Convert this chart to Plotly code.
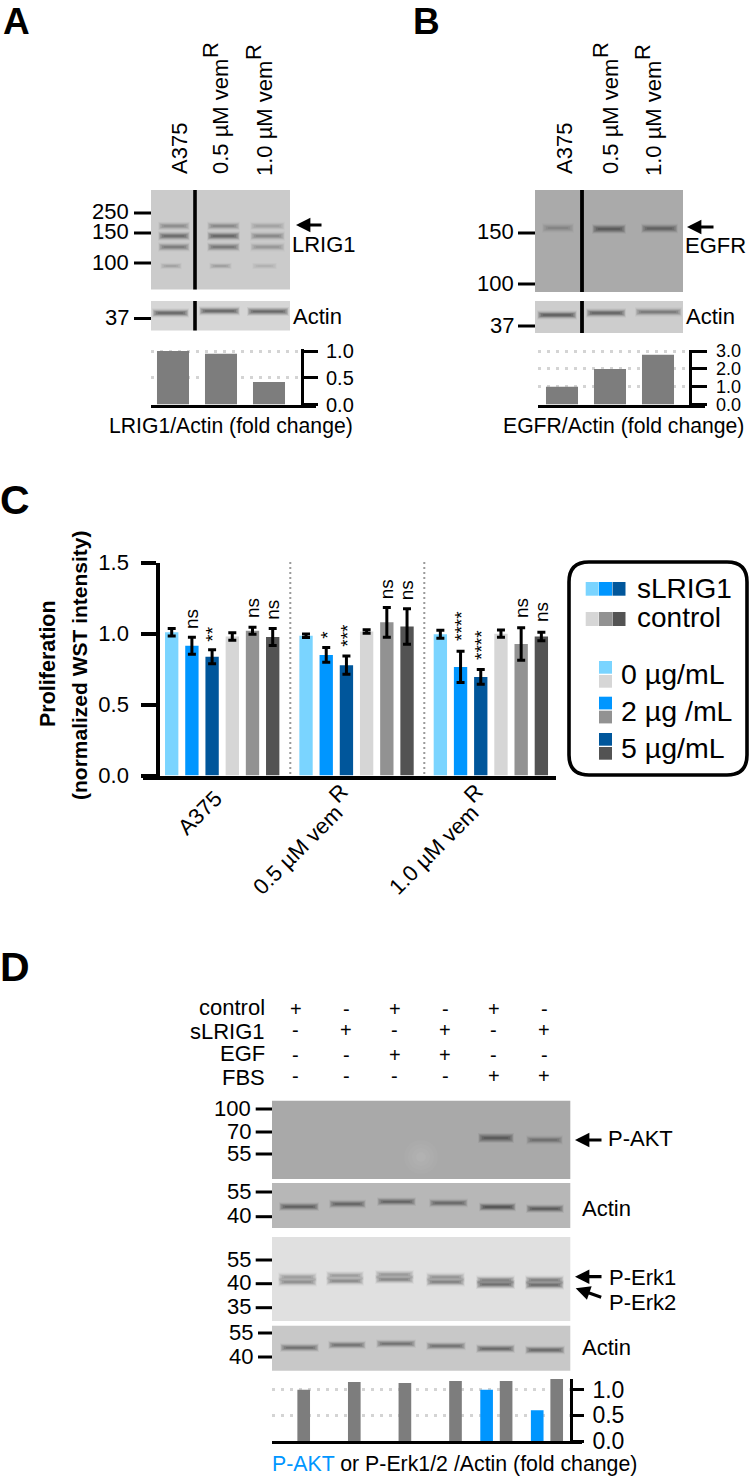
import plotly.graph_objects as go

W, H = 749, 1477
FONT = "Liberation Sans"

# ---- dados ----
# painel A
a_lanes = ["A375", "0.5 µM vem", "1.0 µM vem"]
a_fold = [1.0, 0.95, 0.42]
# painel B
b_fold = [1.0, 2.0, 2.8]
# painel C (A375, 0.5 vemR, 1.0 vemR)
c_groups = ["A375", "0.5 µM vem", "1.0 µM vem"]
c_slrig_0 = [1.01, 0.985, 0.995]
c_slrig_2 = [0.915, 0.85, 0.765]
c_slrig_5 = [0.837, 0.778, 0.695]
c_ctrl_0 = [0.98, 1.015, 1.0]
c_ctrl_2 = [1.02, 1.08, 0.927]
c_ctrl_5 = [0.976, 1.05, 0.98]
c_err_slrig_0 = [0.027, 0.012, 0.028]
c_err_slrig_2 = [0.06, 0.052, 0.11]
c_err_slrig_5 = [0.05, 0.065, 0.052]
c_err_ctrl_0 = [0.026, 0.012, 0.026]
c_err_ctrl_2 = [0.025, 0.105, 0.115]
c_err_ctrl_5 = [0.06, 0.125, 0.03]
c_signif = ["", "ns", "**", "", "ns", "ns",
            "", "*", "***", "", "ns", "ns",
            "", "****", "****", "", "ns", "ns"]
# painel D
d_rows = ["control", "sLRIG1", "EGF", "FBS"]
d_control = ["+", "-", "+", "-", "+", "-"]
d_slrig = ["-", "+", "-", "+", "-", "+"]
d_egf = ["-", "-", "+", "+", "-", "-"]
d_fbs = ["-", "-", "-", "-", "+", "+"]
d_erk_fold = [1.0, 1.15, 1.13, 1.17, 1.17, 1.21]
d_akt_lanes = [4, 5]
d_akt_fold = [1.0, 0.6]


def px(x):
    return x / W


def py(y):
    return 1 - y / H


fig = go.Figure()
shapes = []
annots = []


def txt(x, y, s, size=22, anchor="center", angle=0, bold=False, color="black"):
    annots.append(dict(x=px(x), y=py(y), xref="paper", yref="paper", text=s, showarrow=False,
                       xanchor=anchor, yanchor="middle", textangle=angle, borderpad=0, borderwidth=0,
                       font=dict(family=FONT, size=size, color=color, weight="bold" if bold else "normal")))


def seta(x_tip, y_tip, x_tail, y_tail):
    annots.append(dict(x=px(x_tip), y=py(y_tip), xref="paper", yref="paper", text="", showarrow=True,
                       ax=x_tail - x_tip, ay=y_tail - y_tip, axref="pixel", ayref="pixel",
                       arrowhead=2, arrowsize=0.9, arrowwidth=3.2, arrowcolor="black", standoff=0))


def linha(x0, y0, x1, y1, cor="black", larg=3, dash=None):
    shapes.append(dict(type="line", xref="paper", yref="paper", x0=px(x0), y0=py(y0), x1=px(x1), y1=py(y1),
                       line=dict(color=cor, width=larg, dash=dash) if dash else dict(color=cor, width=larg)))


def ret(x0, y0, x1, y1, cor):
    shapes.append(dict(type="rect", xref="paper", yref="paper", x0=px(x0), y0=py(y0), x1=px(x1), y1=py(y1),
                       fillcolor=cor, line=dict(width=0), layer="below"))


def banda(x0, x1, y, forca=0.5, esp=3.0, y1=None):
    # banda do blot: linhas sobrepostas pra borda ficar suave
    if y1 is None:
        y1 = y
    for fator, alfa, recuo in [(3.0, 0.05, -1), (2.4, 0.08, 0), (1.9, 0.11, 0.5), (1.4, 0.13, 1.5),
                               (0.9, 0.15, 3), (0.5, 0.14, 5)]:
        linha(x0 + recuo, y, x1 - recuo, y1, cor=f"rgba(25,25,25,{alfa * forca:.3f})", larg=esp * fator)


def marcador(y, texto, x_tick0, x_tick1, x_txt, size=22):
    linha(x_tick0, y, x_tick1, y)
    txt(x_txt, y - 1, texto, size=size, anchor="right")


n_eixo = [0]


def eixos(x0, x1, y_base, y_top, xr, yr, x_eixo, dtick, size, ticklen, lw, tick_lw, grid=True, standoff=4):
    n_eixo[0] += 1
    n = n_eixo[0]
    sufixo = "" if n == 1 else str(n)
    fig.layout["xaxis" + sufixo] = dict(domain=[px(x0), px(x1)], range=xr, anchor="y" + sufixo, showgrid=False,
                                        zeroline=False, showticklabels=False, ticks="", showline=True,
                                        linecolor="black", linewidth=lw)
    lado = "right" if x_eixo > (x0 + x1) / 2 else "left"
    fig.layout["yaxis" + sufixo] = dict(domain=[py(y_base), py(y_top)], range=yr, anchor="free", position=px(x_eixo),
                                        side=lado, showgrid=grid, griddash="3px,6px", gridcolor="#d4d4d4", gridwidth=2.5,
                                        zeroline=False, showline=True, linecolor="black", linewidth=lw, ticks="outside",
                                        ticklen=ticklen, tickwidth=tick_lw, tickcolor="black", tick0=0, dtick=dtick,
                                        tickformat=".1f", ticklabelstandoff=standoff,
                                        tickfont=dict(family=FONT, size=size, color="black"))
    return "x" + sufixo, "y" + sufixo


def faixa_x(x0, x1, centro, passo):
    return [(x0 - centro) / passo, (x1 - centro) / passo]


# ---- painel A ----
txt(16, 21.5, "A", size=37, bold=True)
txt(180, 149, a_lanes[0], angle=-90)
txt(220, 117, a_lanes[1], angle=-90)
txt(264, 119, a_lanes[2], angle=-90)
txt(210, 50, "R", angle=-90)
txt(254, 52, "R", angle=-90)

ret(151, 190, 290, 289.5, "#cbcbcb")
for x0, x1, f in [(159, 189, 0.75), (208, 239, 0.8), (251, 284, 0.45)]:
    banda(x0, x1, 226, f * 0.8, 2.8)
    banda(x0, x1, 236, f * 1.4, 3.0)
    banda(x0, x1, 247, f * 1.1, 3.0)
    banda(x0 + 2, x1 - 8, 266, f * 0.5, 2.2)
linha(195, 190, 195, 289.5, larg=3.6)
ret(151, 301, 290, 330.5, "#d6d6d6")
banda(153, 188, 313, 1.15, 3)
banda(200, 239, 311, 1.15, 3)
banda(248, 288, 311.5, 1.15, 3)
linha(195, 301, 195, 330.5, larg=3.6)
marcador(213, "250", 134, 151, 129)
marcador(233, "150", 134, 151, 129)
marcador(263, "100", 134, 151, 129)
marcador(318.5, "37", 134, 151, 129)
seta(296, 225, 323, 225)
txt(292, 244, "LRIG1", anchor="left")
txt(293, 316, "Actin", anchor="left")
txt(109, 426, "LRIG1/Actin (fold change)", anchor="left", size=21.2)

xa, ya = eixos(151, 316, 404.5, 349.4, faixa_x(151, 316, 173, 48), [0, 1.03], 302, 0.5, 20, 14, 3, 3)
fig.add_trace(go.Bar(x=list(range(len(a_fold))), y=a_fold, width=0.667, marker=dict(color="#7d7d7d", line=dict(width=0)),
                     xaxis=xa, yaxis=ya, showlegend=False))

# ---- painel B ----
txt(426, 21.5, "B", size=37, bold=True)
txt(565, 149, "A375", angle=-90)
txt(610, 117, "0.5 µM vem", angle=-90)
txt(653, 119, "1.0 µM vem", angle=-90)
txt(600, 50, "R", angle=-90)
txt(643, 52, "R", angle=-90)

ret(535, 190, 683, 292, "#aaaaaa")
banda(543, 573, 228, 0.4, 3.2)
banda(593, 625, 229, 1.1, 3.2)
banda(642, 677, 228.5, 0.95, 3.2)
linha(582, 190, 582, 292, larg=3.8)
ret(535, 301, 683, 333, "#cdcdcd")
banda(538, 576, 315, 1.25, 3)
banda(587, 625, 313, 1.15, 3)
banda(636, 681, 312, 0.85, 3)
linha(582, 301, 582, 333, larg=3.8)
marcador(233, "150", 518, 535, 514)
marcador(284, "100", 518, 535, 514)
marcador(326, "37", 518, 535, 514)
seta(687, 227, 715, 227)
txt(685, 246, "EGFR", anchor="left")
txt(686, 316, "Actin", anchor="left")
txt(503, 426, "EGFR/Actin (fold change)", anchor="left", size=21.2)

xb, yb = eixos(538, 705, 404.5, 349.7, faixa_x(538, 705, 562, 48), [0, 3.08], 689.5, 1, 18, 15, 3, 3, standoff=6)
fig.add_trace(go.Bar(x=list(range(len(b_fold))), y=b_fold, width=0.667, marker=dict(color="#7d7d7d", line=dict(width=0)),
                     xaxis=xb, yaxis=yb, showlegend=False))

# ---- painel C ----
txt(15, 500, "C", size=41, bold=True)
xc, yc = eixos(143, 556, 775.5, 562.7, faixa_x(143, 556, 171.7, 20.2), [0, 1.5], 158.3, 0.5, 22, 15, 4, 3.5,
               grid=False, standoff=8)
PASSO_GRUPO = 6.65
series_c = [
    ("sLRIG1 0 µg/mL", c_slrig_0, c_err_slrig_0, "#7AD4FF"),
    ("sLRIG1 2 µg/mL", c_slrig_2, c_err_slrig_2, "#0096FF"),
    ("sLRIG1 5 µg/mL", c_slrig_5, c_err_slrig_5, "#00569B"),
    ("control 0 µg/mL", c_ctrl_0, c_err_ctrl_0, "#D6D6D6"),
    ("control 2 µg/mL", c_ctrl_2, c_err_ctrl_2, "#929292"),
    ("control 5 µg/mL", c_ctrl_5, c_err_ctrl_5, "#535353"),
]
for k, (nome, vals, errs, cor) in enumerate(series_c):
    fig.add_trace(go.Bar(x=[g * PASSO_GRUPO + k for g in range(len(c_groups))], y=vals, width=0.66, name=nome,
                         marker=dict(color=cor, line=dict(width=0)),
                         error_y=dict(type="data", array=errs, color="black", thickness=3, width=4),
                         xaxis=xc, yaxis=yc, showlegend=False))

linha(290.3, 562, 290.3, 774, cor="#9a9a9a", larg=2, dash="2px,3px")
linha(424.3, 562, 424.3, 774, cor="#9a9a9a", larg=2, dash="2px,3px")

# rotulos de significancia
pos_signif = [(192, 619), (211.7, 634), (252, 608), (272.7, 610),
              (326.7, 635), (346.7, 635), (386.7, 589.5), (407.3, 590),
              (461, 626), (481, 645), (521, 608), (541, 612)]
for s, (x, y) in zip([v for v in c_signif if v], pos_signif):
    txt(x, y, s, size=19, angle=-90)

txt(48, 664, "Proliferation", size=21.5, angle=-90, bold=True)
txt(79, 665, "(normalized WST intensity)", size=21, angle=-90, bold=True)
txt(199, 813, c_groups[0], angle=-45)
txt(297, 850, c_groups[1], angle=-45)
txt(433, 850, c_groups[2], angle=-45)
txt(338, 793, "R", angle=-45)
txt(473, 793, "R", angle=-45)

# caixa da legenda
bx0, bx1, by0, by1, r = px(569), px(747), py(562), py(775), 20
rx, ry = r / W, r / H
shapes.append(dict(type="path", xref="paper", yref="paper",
                   path=f"M {bx0 + rx} {by0} L {bx1 - rx} {by0} Q {bx1} {by0} {bx1} {by0 - ry} "
                        f"L {bx1} {by1 + ry} Q {bx1} {by1} {bx1 - rx} {by1} L {bx0 + rx} {by1} "
                        f"Q {bx0} {by1} {bx0} {by1 + ry} L {bx0} {by0 - ry} Q {bx0} {by0} {bx0 + rx} {by0} Z",
                   line=dict(color="black", width=3.6), fillcolor="rgba(0,0,0,0)"))
for x0, c in [(585.7, "#7AD4FF"), (599, "#0096FF"), (612.5, "#00569B")]:
    ret(x0, 582, x0 + 13, 595.7, c)
for x0, c in [(585.7, "#D6D6D6"), (599, "#929292"), (612.5, "#535353")]:
    ret(x0, 612, x0 + 13, 626, c)
for y0, c1, c2 in [(661, "#7AD4FF", "#D6D6D6"), (696.7, "#0096FF", "#929292"), (733, "#00569B", "#535353")]:
    ret(599, y0, 612, y0 + 12.7, c1)
    ret(599, y0 + 14, 612, y0 + 26.7, c2)
txt(637, 588, "sLRIG1", size=28, anchor="left")
txt(637, 617, "control", size=28, anchor="left")
txt(621, 674, "0 µg/mL", size=28.5, anchor="left")
txt(621, 711, "2 µg /mL", size=28.5, anchor="left")
txt(621, 748, "5 µg/mL", size=28.5, anchor="left")

# ---- painel D ----
txt(15, 967, "D", size=41, bold=True)
col_x = [295.7, 346.3, 394.7, 445, 493.7, 544.3]
lin_y = [1009, 1030, 1055, 1075.5]
for rot, y, sinais, y_r in zip(d_rows, lin_y, [d_control, d_slrig, d_egf, d_fbs], [1007.5, 1031, 1053, 1077]):
    txt(265, y_r, rot, anchor="right")
    for x, s in zip(col_x, sinais):
        txt(x, y, s, size=20)

ret(272, 1100.7, 570.3, 1179, "#a9a9a9")
# mancha clara no meio do blot
for dx, cor in [(17, "rgba(255,255,255,0.025)"), (13, "rgba(255,255,255,0.03)"), (9, "rgba(255,255,255,0.035)"),
                (5, "rgba(255,255,255,0.04)")]:
    shapes.append(dict(type="circle", xref="paper", yref="paper", x0=px(421 - dx), x1=px(421 + dx),
                       y0=py(1157 - dx), y1=py(1157 + dx), fillcolor=cor, line=dict(width=0)))
banda(479, 513, 1138, 1.05, 3.4)
banda(527, 562, 1140, 0.7, 3)
marcador(1109, "100", 255.7, 272, 251)
marcador(1132, "70", 255.7, 272, 251)
marcador(1154, "55", 255.7, 272, 251)
seta(575, 1140, 603, 1140)
txt(608, 1138, "P-AKT", anchor="left")

ret(272, 1183, 570.3, 1228, "#b7b7b7")
for x0, x1, y, f in [(280, 318, 1206.7, 1.05), (330, 365, 1204, 1.0), (378, 415, 1201.7, 1.0),
                     (430, 467, 1203, 0.95), (480, 515, 1207, 1.3), (527, 563, 1208.7, 1.15)]:
    banda(x0, x1, y, f, 2.8)
marcador(1192, "55", 255.7, 272, 251)
marcador(1216.7, "40", 255.7, 272, 251)
txt(582, 1208, "Actin", anchor="left")

ret(272, 1237, 570.3, 1321, "#e0e0e0")
for x0, x1, y1, y2, f in [(279, 316, 1277, 1282, 0.7), (327, 363, 1275.5, 1281, 0.75), (376, 413, 1274.5, 1279.5, 0.8),
                          (427, 464, 1277, 1282, 0.85), (477, 514, 1280, 1284.5, 1.1), (526, 563, 1280, 1285, 1.15)]:
    banda(x0, x1, y1, f * 0.75, 3)
    banda(x0, x1, y2, f, 3)
marcador(1260, "55", 255.7, 272, 251)
marcador(1283.7, "40", 255.7, 272, 251)
marcador(1307.7, "35", 255.7, 272, 251)
seta(575, 1276.7, 603, 1276.7)
seta(575.7, 1288.3, 602.7, 1297.7)
txt(609, 1277, "P-Erk1", anchor="left")
txt(609, 1302, "P-Erk2", anchor="left")

ret(272, 1325.7, 570.3, 1370.7, "#c8c8c8")
for x0, x1, y, f in [(281, 318, 1347.7, 0.95), (329, 365, 1345, 0.9), (377, 415, 1343.7, 0.9),
                     (427, 465, 1346, 0.9), (477, 514, 1348.7, 1.05), (526, 564, 1350, 1.05)]:
    banda(x0, x1, y, f, 2.8)
marcador(1333, "55", 258, 272, 253)
marcador(1357, "40", 258, 272, 253)
txt(582, 1347.7, "Actin", anchor="left")

xd, yd = eixos(272, 581.7, 1441, 1379, faixa_x(272, 581.7, 303.7, 50.6), [0, 1.21], 571, 0.5, 23, 11, 2.6, 2.6)
fig.add_trace(go.Bar(x=list(range(len(d_erk_fold))), y=d_erk_fold, width=0.25, name="P-Erk1/2",
                     marker=dict(color="#7d7d7d", line=dict(width=0)), xaxis=xd, yaxis=yd, showlegend=False))
fig.add_trace(go.Bar(x=[i - 0.385 for i in d_akt_lanes], y=d_akt_fold, width=0.25, name="P-AKT",
                     marker=dict(color="#0096FF", line=dict(width=0)), xaxis=xd, yaxis=yd, showlegend=False))
txt(272, 1464, '<span style="color:#0096FF">P-AKT</span> or P-Erk1/2 /Actin (fold change)', anchor="left", size=21.3)

fig.update_layout(width=W, height=H, margin=dict(l=0, r=0, t=0, b=0, autoexpand=False), autosize=False,
                  plot_bgcolor="white", paper_bgcolor="white", barmode="overlay", showlegend=False,
                  shapes=shapes, annotations=annots, font=dict(family=FONT, color="black"))
fig.write_html("out.html", config=dict(displayModeBar=False), post_script="document.body.style.margin='0';")
